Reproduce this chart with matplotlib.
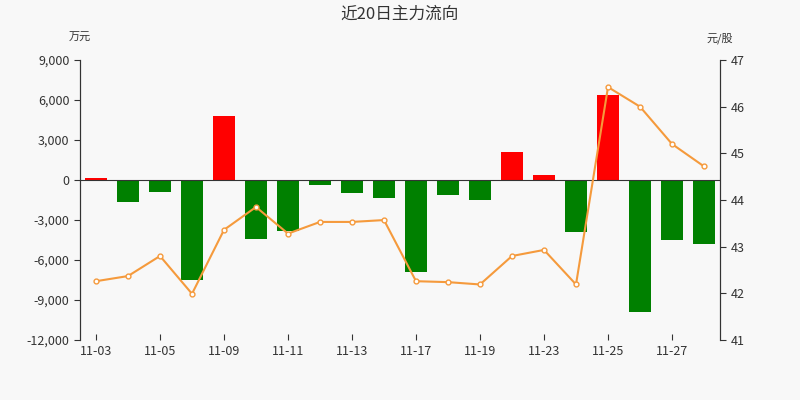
import matplotlib.pyplot as plt
import numpy as np

plt.rcParams['font.family'] = ['Noto Sans CJK SC', 'DejaVu Sans']

dates = ["11-03", "11-04", "11-05", "11-06", "11-09", "11-10", "11-11", "11-12",
         "11-13", "11-16", "11-17", "11-18", "11-19", "11-20", "11-23", "11-24",
         "11-25", "11-26", "11-27", "11-30"]
flow = [150, -1650, -900, -7500, 4800, -4400, -3800, -350, -950, -1350,
        -6900, -1100, -1500, 2100, 400, -3900, 6350, -9900, -4500, -4800]
price = [42.26, 42.37, 42.80, 41.99, 43.36, 43.85, 43.28, 43.53, 43.53, 43.57,
         42.26, 42.24, 42.19, 42.80, 42.93, 42.19, 46.42, 46.00, 45.20, 44.72]

bg = "#f8f8f8"
fig = plt.figure(figsize=(8, 4), dpi=100, facecolor=bg)
ax = fig.add_axes([0.1, 0.15, 0.8, 0.7], facecolor=bg)
x = np.arange(len(flow))
colors = ["#ff0000" if v > 0 else "#008000" for v in flow]
ax.bar(x, flow, width=0.68, color=colors)
ax.set_xlim(-0.5, len(flow) - 0.5)
ax.set_ylim(-12000, 9000)
ax.set_yticks(np.arange(-12000, 9001, 3000))
ax.set_yticklabels([f"{v:,}" for v in range(-12000, 9001, 3000)])
ax.set_xticks(x[::2])
ax.set_xticklabels(dates[::2])
ax.axhline(0, color="#333333", lw=0.8)

ax2 = ax.twinx()
ax2.plot(x, price, color="#f59a3c", lw=1.5, marker="o", ms=3.5,
         mfc="white", mec="#f59a3c", mew=1)
ax2.set_ylim(41, 47)
ax2.set_yticks(range(41, 48))

for a in (ax, ax2):
    for s in ("top", "bottom"):
        a.spines[s].set_visible(False)
    a.spines["left"].set_color("#333333")
    a.spines["right"].set_color("#333333")
    a.tick_params(labelsize=9, colors="#333333", length=4)
ax.tick_params(axis="x", length=4, direction="in")

fig.text(0.5, 0.965, "近20日主力流向", ha="center", va="center", fontsize=12, color="#333333")
fig.text(0.1, 0.905, "万元", ha="center", va="center", fontsize=8, color="#333333")
fig.text(0.9, 0.905, "元/股", ha="center", va="center", fontsize=8, color="#333333")
fig.savefig("out.png", facecolor=bg)
